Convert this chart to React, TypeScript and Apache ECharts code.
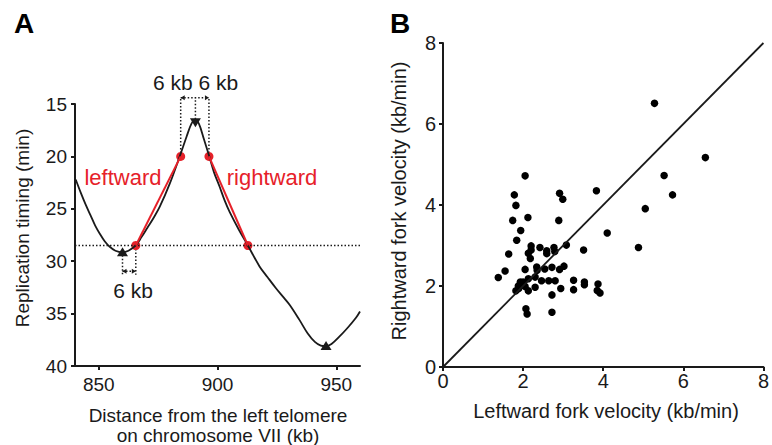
import React, { useEffect, useRef } from "react";
import * as echarts from "echarts";

// Panel A: replication timing profile (kb, min)
const profile: [number, number][] = [
  [840.3, 22.2], [842.5, 23.5], [844.5, 24.6], [846.5, 25.6], [848.5, 26.6], [850.5, 27.4],
  [852.5, 28.1], [854.5, 28.6], [857, 29.0], [860, 29.15], [862.5, 29.0], [865.6, 28.5],
  [868, 27.7], [870.5, 26.8], [873, 25.9], [875.7, 24.8], [879.9, 22.6], [884.1, 20.0],
  [887, 18.1], [889, 16.9], [890.6, 16.5], [892.2, 16.9], [894.2, 18.3], [896.4, 19.9],
  [898.5, 21.5], [900.9, 22.9], [903, 24.2], [905.1, 25.3], [909, 27.0], [912.8, 28.5],
  [917.7, 30.5], [921, 31.5], [924.7, 32.6], [928, 33.5], [930.5, 34.2], [934.5, 35.6],
  [938, 36.9], [941, 37.7], [943.5, 38.05], [945.6, 38.1], [948, 37.9], [951.3, 37.2],
  [955, 36.3], [958.3, 35.4], [960, 34.8],
];
const leftFork: [number, number][] = [[865.6, 28.5], [884.5, 20.0]];
const rightFork: [number, number][] = [[896.4, 20.0], [912.8, 28.5]];
const forkPoints: [number, number][] = [[865.6, 28.5], [884.5, 20.0], [896.4, 20.0], [912.8, 28.5]];
const originPoints: [number, number][] = [[890.7, 16.8]];
const terminationPoints: [number, number][] = [[860.0, 29.1], [945.7, 38.05]];
const thresholdTiming = 28.5;
// dotted guide segments: x1, t1, x2, t2, arrows (1 = arrowheads at both ends)
const guideSegments: number[][] = [
  [884.5, 20.0, 884.5, 14.4, 0],
  [896.4, 20.0, 896.4, 14.4, 0],
  [890.7, 16.8, 890.7, 14.4, 0],
  [884.5, 14.4, 896.4, 14.4, 1],
  [860.0, 29.1, 860.0, 31.3, 0],
  [865.6, 28.5, 865.6, 31.3, 0],
  [860.0, 30.95, 865.6, 30.95, 1],
];
const xRangeA = [840, 960];
const xTicksA = [850, 900, 950];
const yRangeA = [15, 40];

// Panel B: fork velocities (leftward, rightward) in kb/min
const velocities: [number, number][] = [
  [5.28, 6.51], [6.55, 5.17], [5.52, 4.73], [5.73, 4.25], [5.05, 3.91], [4.10, 3.31], [4.88, 2.95], [3.83, 4.35],
  [2.05, 4.72], [1.78, 4.25], [2.91, 4.29], [2.99, 4.14], [1.82, 3.99], [1.74, 3.62], [2.12, 3.69], [2.89, 3.62],
  [1.94, 3.37], [1.84, 3.13], [1.64, 2.79], [2.20, 2.99], [2.20, 2.89], [2.42, 2.95], [2.59, 2.87], [2.59, 2.80],
  [2.77, 2.95], [2.79, 2.85], [3.08, 3.01], [3.51, 2.89], [2.13, 2.81], [2.18, 2.68], [1.55, 2.37], [1.38, 2.21],
  [2.05, 2.41], [2.34, 2.47], [2.35, 2.39], [2.54, 2.42], [2.72, 2.46], [2.91, 2.41], [3.02, 2.49], [2.13, 2.18],
  [2.30, 2.22], [2.46, 2.13], [2.64, 2.13], [2.80, 2.13], [3.26, 2.14], [3.53, 2.10], [3.87, 2.05], [1.93, 2.10],
  [1.97, 2.03], [1.89, 1.94], [1.82, 1.88], [2.05, 1.99], [2.13, 1.88], [2.30, 1.97], [2.94, 1.94], [2.72, 1.78],
  [3.26, 1.91], [3.53, 2.03], [3.85, 1.89], [3.92, 1.83], [2.07, 1.44], [2.10, 1.31], [2.72, 1.35], [1.88, 2.00],
  [2.00, 2.10],
];
const diagonal: [number, number][] = [[0, 0], [8, 8]];

const FONT = "'Liberation Sans', Arial, Helvetica, sans-serif";
const INK = "#1a1a1a";
const RED = "#e62129";

function txt(text: string, x: number, y: number, size: number, fill: string, extra: any = {}, styleExtra: any = {}) {
  return {
    type: "text", x, y, ...extra,
    style: {
      text, fontSize: size, fontFamily: FONT, fill,
      textAlign: "center", textVerticalAlign: "middle", align: "center", verticalAlign: "middle",
      ...styleExtra,
    },
  };
}

export default function App() {
  const ref = useRef<HTMLDivElement>(null);

  useEffect(() => {
    if (!ref.current) return;
    const chart = echarts.init(ref.current, undefined, { renderer: "svg" });

    const axisCommon = {
      axisLine: { show: true, onZero: false, lineStyle: { color: INK, width: 2 } },
      axisTick: { show: true, length: 4, lineStyle: { color: INK, width: 2 } },
      splitLine: { show: false },
    };
    const dash = [1.5, 2];
    const dotted = { color: INK, width: 1.5, type: dash as any };

    chart.setOption({
      animation: false,
      grid: [
        { left: 75, top: 104, width: 285, height: 262 },
        { left: 443, top: 43, width: 326, height: 324 },
      ],
      xAxis: [
        {
          type: "value", gridIndex: 0, min: xRangeA[0], max: xRangeA[1], ...axisCommon,
          axisTick: { ...axisCommon.axisTick, customValues: xTicksA },
          axisLabel: { customValues: xTicksA, fontSize: 19, color: INK, fontFamily: FONT, margin: 9 },
        },
        {
          type: "value", gridIndex: 1, min: 0, max: 8, interval: 2, ...axisCommon,
          axisLabel: { fontSize: 20, color: INK, fontFamily: FONT, margin: 4 },
        },
      ],
      yAxis: [
        {
          type: "value", gridIndex: 0, inverse: true, min: yRangeA[0], max: yRangeA[1], interval: 5, ...axisCommon,
          axisLabel: { fontSize: 19, color: INK, fontFamily: FONT, margin: 8 },
        },
        {
          type: "value", gridIndex: 1, min: 0, max: 8, interval: 2, ...axisCommon,
          axisLabel: { fontSize: 20, color: INK, fontFamily: FONT, margin: 7 },
        },
      ],
      series: [
        {
          type: "line", xAxisIndex: 0, yAxisIndex: 0, silent: true,
          data: [[xRangeA[0], thresholdTiming], [xRangeA[1], thresholdTiming]],
          symbol: "none", lineStyle: dotted,
        },
        {
          type: "custom", xAxisIndex: 0, yAxisIndex: 0, silent: true, clip: false,
          data: guideSegments,
          encode: { x: [0, 2], y: [1, 3] },
          renderItem: (_params: any, api: any) => {
            const p1 = api.coord([api.value(0), api.value(1)]);
            const p2 = api.coord([api.value(2), api.value(3)]);
            const children: any[] = [
              {
                type: "line",
                shape: { x1: p1[0], y1: p1[1], x2: p2[0], y2: p2[1] },
                style: { stroke: INK, lineWidth: 1.5, lineDash: dash, fill: null },
              },
            ];
            if (api.value(4) === 1) {
              const a = 4, h = 2.5;
              children.push({
                type: "polygon",
                shape: { points: [[p1[0], p1[1]], [p1[0] + a, p1[1] - h], [p1[0] + a, p1[1] + h]] },
                style: { fill: INK },
              });
              children.push({
                type: "polygon",
                shape: { points: [[p2[0], p2[1]], [p2[0] - a, p2[1] - h], [p2[0] - a, p2[1] + h]] },
                style: { fill: INK },
              });
            }
            return { type: "group", children };
          },
        },
        {
          type: "line", xAxisIndex: 0, yAxisIndex: 0, data: profile, smooth: 0.35,
          symbol: "none", lineStyle: { color: INK, width: 1.8 },
        },
        {
          type: "line", xAxisIndex: 0, yAxisIndex: 0, data: leftFork, symbol: "none",
          lineStyle: { color: RED, width: 2 },
        },
        {
          type: "line", xAxisIndex: 0, yAxisIndex: 0, data: rightFork, symbol: "none",
          lineStyle: { color: RED, width: 2 },
        },
        {
          type: "scatter", xAxisIndex: 0, yAxisIndex: 0, data: forkPoints, symbolSize: 9,
          itemStyle: { color: RED, opacity: 1 },
        },
        {
          type: "scatter", xAxisIndex: 0, yAxisIndex: 0, data: originPoints, symbol: "triangle",
          symbolRotate: 180, symbolSize: [11, 9], itemStyle: { color: INK, opacity: 1 },
        },
        {
          type: "scatter", xAxisIndex: 0, yAxisIndex: 0, data: terminationPoints, symbol: "triangle",
          symbolSize: [11, 9], itemStyle: { color: INK, opacity: 1 },
        },
        {
          type: "line", xAxisIndex: 1, yAxisIndex: 1, data: diagonal, symbol: "none",
          lineStyle: { color: INK, width: 1.8 },
        },
        {
          type: "scatter", xAxisIndex: 1, yAxisIndex: 1, data: velocities, symbolSize: 7.5,
          itemStyle: { color: "#000", opacity: 1 },
        },
      ],
      graphic: [
        txt("A", 24, 23, 28, "#000", {}, { fontWeight: "bold" }),
        txt("B", 400, 23, 28, "#000", {}, { fontWeight: "bold" }),
        txt("6 kb 6 kb", 195.5, 82, 21, INK),
        txt("6 kb", 133, 290, 21, INK),
        txt("leftward", 123, 177, 22, RED),
        txt("rightward", 272, 177, 22, RED),
        txt("Replication timing (min)", 22, 228, 19, INK, { rotation: Math.PI / 2 }),
        txt("Distance from the left telomere\non chromosome VII (kb)", 218, 425, 19, INK, {}, { lineHeight: 20 }),
        txt("Rightward fork velocity (kb/min)", 399, 201, 20, INK, { rotation: Math.PI / 2 }),
        txt("Leftward fork velocity (kb/min)", 606, 411, 20, INK),
      ],
    });

    return () => chart.dispose();
  }, []);

  return (
    <div
      ref={ref}
      style={{ position: "fixed", left: 0, top: 0, width: 772, height: 445, background: "#fff" }}
    />
  );
}
